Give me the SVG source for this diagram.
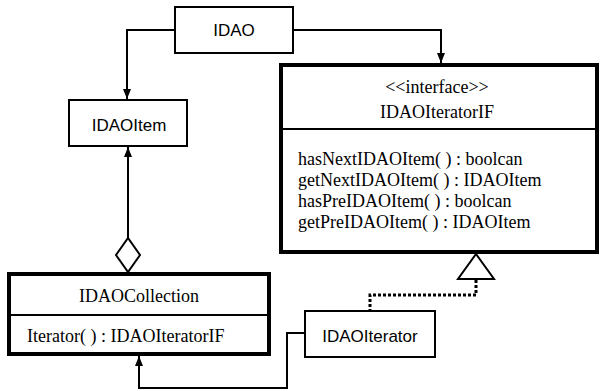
<svg xmlns="http://www.w3.org/2000/svg" width="600" height="391" viewBox="0 0 600 391">
<defs>
<marker id="arr" viewBox="0 0 10 10" refX="10" refY="5" markerWidth="10" markerHeight="10" markerUnits="userSpaceOnUse" orient="auto">
<path d="M0,1 L10,5 L0,9 Z" fill="#000"/>
</marker>
</defs>
<style>
.box{fill:#fff;stroke:#000;stroke-width:2}
.thick{fill:#fff;stroke:#000;stroke-width:4}
.sep{stroke:#000;stroke-width:2}
.sans{font-family:"Liberation Sans",Arial,sans-serif;font-size:17px;fill:#000}
.serif{font-family:"Liberation Serif","Times New Roman",serif;font-size:18px;fill:#000}
.line{fill:none;stroke:#000;stroke-width:2}
.dot{fill:none;stroke:#000;stroke-width:3;stroke-dasharray:3 2}
</style>
<rect width="600" height="391" fill="#fff"/>
<g id="connectors">
<path class="line" d="M175,30 H127 V99" marker-end="url(#arr)"/>
<path class="line" d="M293,30 H441 V63" marker-end="url(#arr)"/>
<path class="line" d="M128,238 V147" marker-end="url(#arr)"/>
<path class="line" d="M116,255 L128,238 L140,255 L128,272 Z" fill="#fff"/>
<path class="line" d="M305,333 H287 V388 H139 V356" marker-end="url(#arr)"/>
<path class="line" d="M476,254 L494,279 L458,279 Z" fill="#fff"/>
<path class="dot" d="M476,280 V295 H370 V311"/>
</g>
<g id="IDAO">
<rect class="box" x="175" y="7" width="118" height="46"/>
<text class="sans" x="234" y="36" text-anchor="middle">IDAO</text>
</g>
<g id="IDAOItem">
<rect class="box" x="69" y="100" width="118" height="46"/>
<text class="sans" x="129" y="131" text-anchor="middle">IDAOItem</text>
</g>
<g id="IDAOIteratorIF">
<rect class="thick" x="281" y="65" width="316" height="187"/>
<line class="sep" x1="281" y1="129" x2="597" y2="129"/>
<text class="serif" x="437" y="93" text-anchor="middle">&lt;&lt;interface&gt;&gt;</text>
<text class="serif" x="437" y="118" text-anchor="middle">IDAOIteratorIF</text>
<text class="serif" x="298" y="165">hasNextIDAOItem( ) : boolcan</text>
<text class="serif" x="298" y="186">getNextIDAOItem( ) : IDAOItem</text>
<text class="serif" x="298" y="207">hasPreIDAOItem( ) : boolcan</text>
<text class="serif" x="298" y="228">getPreIDAOItem( ) : IDAOItem</text>
</g>
<g id="IDAOCollection">
<rect class="thick" x="9" y="274" width="260" height="80"/>
<line class="sep" x1="9" y1="315" x2="269" y2="315"/>
<text class="serif" x="139" y="302" text-anchor="middle">IDAOCollection</text>
<text class="serif" x="27" y="342">Iterator( ) : IDAOIteratorIF</text>
</g>
<g id="IDAOIterator">
<rect class="box" x="305" y="311" width="130" height="46"/>
<text class="sans" x="370" y="342" text-anchor="middle">IDAOIterator</text>
</g>
</svg>
